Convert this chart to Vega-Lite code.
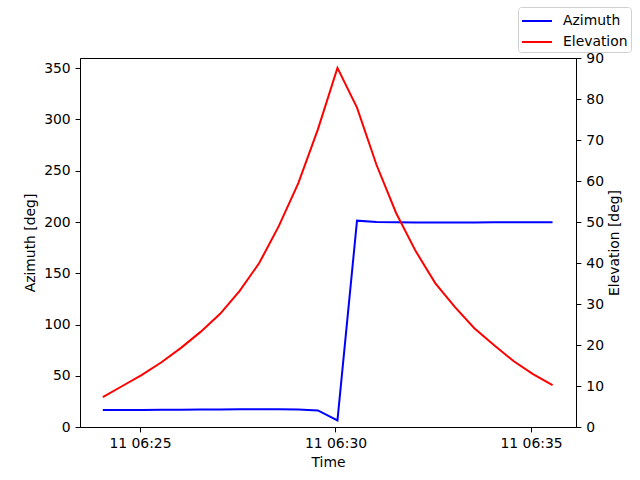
{
  "$schema": "https://vega.github.io/schema/vega-lite/v6.json",
  "width": 496,
  "height": 369,
  "autosize": {"type": "none"},
  "padding": {"left": 80, "top": 58, "right": 64, "bottom": 53},
  "background": "white",
  "config": {
    "view": {"stroke": "black", "strokeWidth": 1},
    "font": "DejaVu Sans",
    "axis": {
      "grid": false,
      "domainColor": "black",
      "tickColor": "black",
      "tickSize": 4.9,
      "labelColor": "black",
      "labelFontSize": 13.9,
      "labelFont": "DejaVu Sans",
      "labelPadding": 4.9,
      "titleFontSize": 13.9,
      "titleFont": "DejaVu Sans",
      "titleFontWeight": "normal",
      "titleColor": "black"
    },
    "legend": {
      "labelFont": "DejaVu Sans",
      "labelFontSize": 13.9,
      "labelColor": "black"
    }
  },
  "data": {
    "values": [
      {"time": "2024-01-11T06:24:03", "azimuth": 16.6, "elevation": 7.3},
      {"time": "2024-01-11T06:24:33", "azimuth": 16.6, "elevation": 10.0},
      {"time": "2024-01-11T06:25:03", "azimuth": 16.7, "elevation": 12.7},
      {"time": "2024-01-11T06:25:33", "azimuth": 16.8, "elevation": 15.8},
      {"time": "2024-01-11T06:26:03", "azimuth": 16.9, "elevation": 19.3},
      {"time": "2024-01-11T06:26:33", "azimuth": 17.0, "elevation": 23.2},
      {"time": "2024-01-11T06:27:03", "azimuth": 17.1, "elevation": 27.6},
      {"time": "2024-01-11T06:27:33", "azimuth": 17.2, "elevation": 33.2},
      {"time": "2024-01-11T06:28:03", "azimuth": 17.2, "elevation": 40.0},
      {"time": "2024-01-11T06:28:33", "azimuth": 17.2, "elevation": 49.0},
      {"time": "2024-01-11T06:29:03", "azimuth": 17.0, "elevation": 59.5},
      {"time": "2024-01-11T06:29:33", "azimuth": 16.2, "elevation": 72.6},
      {"time": "2024-01-11T06:30:03", "azimuth": 6.4, "elevation": 87.6},
      {"time": "2024-01-11T06:30:33", "azimuth": 201.3, "elevation": 77.9},
      {"time": "2024-01-11T06:31:03", "azimuth": 200.0, "elevation": 63.9},
      {"time": "2024-01-11T06:31:33", "azimuth": 199.7, "elevation": 52.2},
      {"time": "2024-01-11T06:32:03", "azimuth": 199.6, "elevation": 42.9},
      {"time": "2024-01-11T06:32:33", "azimuth": 199.6, "elevation": 35.1},
      {"time": "2024-01-11T06:33:03", "azimuth": 199.6, "elevation": 29.3},
      {"time": "2024-01-11T06:33:33", "azimuth": 199.6, "elevation": 24.1},
      {"time": "2024-01-11T06:34:03", "azimuth": 199.7, "elevation": 20.0},
      {"time": "2024-01-11T06:34:33", "azimuth": 199.7, "elevation": 16.1},
      {"time": "2024-01-11T06:35:03", "azimuth": 199.8, "elevation": 12.9},
      {"time": "2024-01-11T06:35:33", "azimuth": 199.8, "elevation": 10.2}
    ]
  },
  "encoding": {
    "x": {
      "field": "time",
      "type": "temporal",
      "title": "Time",
      "scale": {
        "domain": [
          {"year": 2024, "month": 1, "date": 11, "hours": 6, "minutes": 23, "seconds": 28},
          {"year": 2024, "month": 1, "date": 11, "hours": 6, "minutes": 36, "seconds": 9}
        ],
        "nice": false
      },
      "axis": {
        "format": "%d %H:%M",
        "values": [
          {"year": 2024, "month": 1, "date": 11, "hours": 6, "minutes": 25},
          {"year": 2024, "month": 1, "date": 11, "hours": 6, "minutes": 30},
          {"year": 2024, "month": 1, "date": 11, "hours": 6, "minutes": 35}
        ],
        "labelFlush": false,
        "titlePadding": 5
      }
    }
  },
  "layer": [
    {
      "mark": {"type": "line", "strokeWidth": 2, "clip": true},
      "encoding": {
        "y": {
          "field": "azimuth",
          "type": "quantitative",
          "title": "Azimuth [deg]",
          "scale": {"domain": [0, 360], "nice": false, "zero": false},
          "axis": {"orient": "left", "values": [0, 50, 100, 150, 200, 250, 300, 350], "titlePadding": 6}
        },
        "color": {
          "datum": "Azimuth",
          "type": "nominal",
          "scale": {"domain": ["Azimuth", "Elevation"], "range": ["#0000ff", "#ff0000"]},
          "legend": {
            "title": null,
            "orient": "none",
            "legendX": 438,
            "legendY": -51,
            "symbolType": "M-1,0H2",
            "symbolSize": 400,
            "symbolStrokeWidth": 2,
            "padding": 3,
            "strokeColor": "#d0d0d0",
            "fillColor": "white",
            "cornerRadius": 3,
            "rowPadding": 3,
            "labelOffset": 20
          }
        }
      }
    },
    {
      "mark": {"type": "line", "strokeWidth": 2, "clip": true},
      "encoding": {
        "y": {
          "field": "elevation",
          "type": "quantitative",
          "title": "Elevation [deg]",
          "scale": {"domain": [0, 90], "nice": false, "zero": false},
          "axis": {"orient": "right", "values": [0, 10, 20, 30, 40, 50, 60, 70, 80, 90], "titleAngle": 270, "titleX": 38, "titleY": 184.5, "titleBaseline": "middle", "titleAlign": "center"}
        },
        "color": {"datum": "Elevation", "type": "nominal"}
      }
    }
  ],
  "resolve": {"scale": {"y": "independent"}}
}
